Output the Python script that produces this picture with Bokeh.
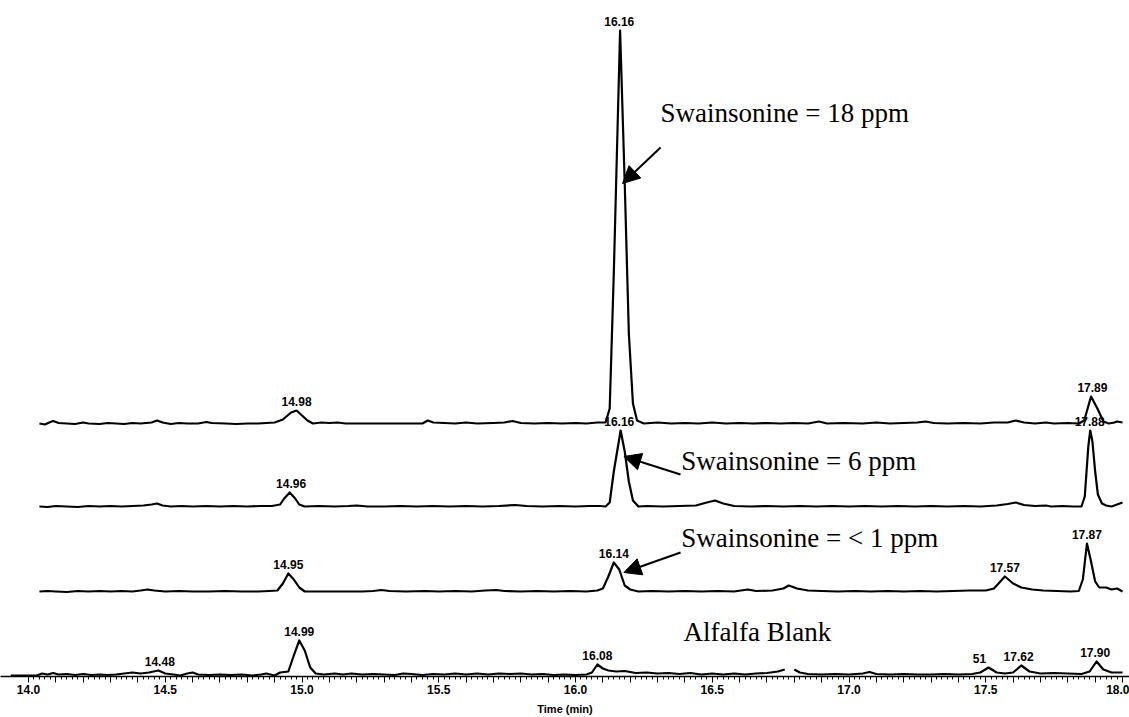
import math
from bokeh.plotting import figure
from bokeh.models import Range1d, FixedTicker, CustomJSTickFormatter, Label, Arrow, NormalHead
from bokeh.core.properties import value
from bokeh.embed import file_html
from bokeh.resources import INLINE

NAN = float("nan")

# ---------------- data ----------------
# Trace 1: Swainsonine = 18 ppm
t_18 = [14.04, 14.06, 14.08, 14.09, 14.11, 14.14, 14.17, 14.20, 14.22, 14.26, 14.29, 14.32, 14.35, 14.38,
        14.41, 14.45, 14.47, 14.49, 14.52, 14.55, 14.58, 14.62, 14.65, 14.67, 14.72, 14.76, 14.80, 14.84,
        14.90, 14.93, 14.96, 14.98, 15.00, 15.02, 15.04, 15.07, 15.10, 15.13, 15.16, 15.20, 15.26, 15.32,
        15.38, 15.44, 15.46, 15.48, 15.52, 15.56, 15.60, 15.64, 15.70, 15.74, 15.77, 15.80, 15.85, 15.90,
        15.95, 16.00, 16.04, 16.08, 16.11, 16.125, 16.14, 16.163, 16.18, 16.195, 16.21, 16.225, 16.25,
        16.30, 16.35, 16.40, 16.45, 16.50, 16.55, 16.60, 16.65, 16.70, 16.75, 16.80, 16.85, 16.89, 16.92,
        16.98, 17.05, 17.10, 17.15, 17.20, 17.25, 17.28, 17.31, 17.36, 17.42, 17.48, 17.53, 17.58, 17.61,
        17.64, 17.68, 17.72, 17.75, 17.80, 17.84, 17.86, 17.885, 17.91, 17.93, 17.95, 17.97, 17.98, 18.00]
y_18 = [0, -1, 1.5, 2.5, 0.5, 0, -0.5, 1, 0, -0.5, 0.5, 0, -0.5, 0.5,
        0, 1, 3, 1, -0.5, 0.5, 0, 0, 1.5, 0.5, 0, -0.5, 0, 0,
        1, 4, 11, 13, 8, 3, 0, 1, 0.5, 1, 0, 0, 0, 0,
        0, 0, 3, 1, 0.5, 0, 1, 0, 0.5, 1, 2.5, 0.5, 0, 0.5,
        0, 0.5, 0, 1, 1, 15, 150, 393, 240, 90, 20, 3, 0,
        1, 0, 0.5, 0, 1, 0, 0.5, 0, 0.5, 0, 0.5, 0, 2, 0,
        0.5, 0, 1, 0, 0.5, 1, 2, 0.5, 0, 0.5, 0, 1, 1, 3,
        1, 0, 1, 0, 0.5, 0, 3, 27, 14, 2, 0, 1, 2, 1]

# Trace 2: Swainsonine = 6 ppm
t_6 = [14.04, 14.07, 14.10, 14.14, 14.18, 14.22, 14.26, 14.30, 14.34, 14.38, 14.42, 14.45, 14.47, 14.49,
       14.52, 14.56, 14.60, 14.65, 14.70, 14.75, 14.80, 14.85, 14.89, 14.92, 14.935, 14.955, 14.975, 14.99,
       15.01, 15.06, 15.12, 15.17, 15.20, 15.24, 15.30, 15.36, 15.42, 15.48, 15.54, 15.60, 15.66, 15.72,
       15.78, 15.82, 15.88, 15.94, 16.00, 16.05, 16.09, 16.11, 16.125, 16.14, 16.165, 16.18, 16.195, 16.21,
       16.23, 16.26, 16.32, 16.38, 16.44, 16.48, 16.51, 16.54, 16.58, 16.64, 16.70, 16.76, 16.82, 16.88,
       16.94, 17.00, 17.06, 17.12, 17.18, 17.24, 17.30, 17.36, 17.42, 17.48, 17.54, 17.58, 17.61, 17.64,
       17.68, 17.72, 17.74, 17.78, 17.82, 17.85, 17.862, 17.875, 17.882, 17.89, 17.90, 17.91, 17.925,
       17.94, 17.96, 17.98, 18.00]
y_6 = [0, -0.5, 0.5, 0, -0.5, 0.5, 0, 0.5, 0, 0.5, 1, 2, 3, 1,
       0, 0.5, 0, 0.5, 0, 0.5, 0, 0.5, 0.5, 2, 8, 14, 8, 2,
       0, 0.5, 0, 0.5, 1, 0, 0, 0.5, 0, 0.5, 0, 0.5, 0, 0.5,
       1.5, 0.5, 0, 0.5, 0, 0.5, 0.5, 0, 4, 35, 76, 55, 25, 6,
       0, 0.5, 0, 0.5, 1, 4, 6, 3, 0.5, 0, 0.5, 0, 0.5, 0,
       0.5, 0, 0.5, 0, 0.5, 0, 0.5, 0, 0.5, 0, 1, 2.5, 4, 1.5,
       0.5, 1, 0, 0.5, 0, 0, 10, 60, 76, 65, 35, 12, 3,
       1, 0, 2, 4]

# Trace 3: Swainsonine = < 1 ppm
t_1 = [14.04, 14.07, 14.10, 14.14, 14.18, 14.22, 14.26, 14.30, 14.34, 14.38, 14.41, 14.435, 14.46, 14.50,
       14.55, 14.60, 14.66, 14.72, 14.78, 14.84, 14.88, 14.91, 14.93, 14.95, 14.97, 14.99, 15.01, 15.05,
       15.10, 15.16, 15.22, 15.26, 15.29, 15.32, 15.38, 15.45, 15.50, 15.56, 15.62, 15.67, 15.71, 15.74,
       15.80, 15.86, 15.92, 15.98, 16.04, 16.08, 16.10, 16.12, 16.14, 16.16, 16.18, 16.20, 16.23, 16.28,
       16.34, 16.40, 16.46, 16.52, 16.58, 16.63, 16.66, 16.72, 16.76, 16.78, 16.81, 16.85, 16.90, 16.96,
       17.02, 17.08, 17.14, 17.20, 17.26, 17.32, 17.38, 17.44, 17.50, 17.53, 17.57, 17.60, 17.63, 17.67,
       17.71, 17.76, 17.81, 17.84, 17.855, 17.87, 17.885, 17.90, 17.915, 17.94, 17.96, 17.98, 18.00]
y_1 = [0, 0.5, 0, -0.5, 0.5, 0, 0.5, 0, 0.5, 0, 1, 2, 1, 0,
       0.5, 0, 0, 0.5, 0, 0, 0.5, 1, 8, 18, 12, 4, 0, 0,
       0, 0, 0, 0.5, 1.5, 0.5, 0, 0.5, 0, 0.5, 0, 1, 1.5, 0.5,
       0, 0.5, 0, 0.5, 0, 1, 3, 15, 29, 22, 6, 2, 0, 0.5,
       0, 0.5, 0, 0.5, 0, 2, 0.5, 1, 3, 6, 3, 1, 0.5, 0,
       0.5, 0, 0.5, 0, 0.5, 0, 0.5, 1, 1, 3, 15, 8, 4, 2,
       1, 0.5, 0, 0.5, 12, 48, 30, 10, 4, 4, 2, 3, 0]

# Trace 4: Alfalfa Blank (gap near 16.78 min)
t_blank = [13.935, 14.03, 14.05, 14.07, 14.09, 14.11, 14.14, 14.17, 14.20, 14.23, 14.26, 14.29, 14.32,
           14.35, 14.38, 14.41, 14.44, 14.475, 14.50, 14.53, 14.555, 14.58, 14.60, 14.62, 14.66, 14.70,
           14.74, 14.78, 14.82, 14.85, 14.87, 14.90, 14.92, 14.95, 14.97, 14.99, 15.01, 15.03, 15.05,
           15.08, 15.12, 15.15, 15.18, 15.22, 15.26, 15.30, 15.34, 15.37, 15.40, 15.44, 15.48, 15.52,
           15.56, 15.60, 15.64, 15.68, 15.72, 15.76, 15.80, 15.84, 15.88, 15.92, 15.96, 16.00, 16.04,
           16.06, 16.08, 16.10, 16.12, 16.15, 16.18, 16.22, 16.26, 16.30, 16.34, 16.38, 16.42, 16.46,
           16.50, 16.54, 16.58, 16.62, 16.66, 16.70, 16.74, 16.765, NAN, 16.80, 16.82, 16.85, 16.90,
           16.95, 17.00, 17.05, 17.075, 17.10, 17.15, 17.20, 17.25, 17.30, 17.35, 17.40, 17.45, 17.48,
           17.51, 17.54, 17.57, 17.60, 17.63, 17.66, 17.70, 17.75, 17.80, 17.85, 17.88, 17.905, 17.93,
           17.96, 18.00]
y_blank = [0, 0, 2, 1, 2.5, 1, 1.5, 0.5, 1.5, 0.5, 1, 0.5, 1,
           2, 3, 2, 3, 5, 2, 1, 0, 2, 3, 1, 0.5, 1,
           0.5, 1, 0, 1, 2, 0, 3, 4, 20, 35, 25, 8, 2,
           1, 2, 1, 2, 1, 1.5, 1, 0.5, 2, 1.5, 0.5, 1.5, 1,
           2, 1, 2, 1, 2, 1.5, 2, 1, 1.5, 0.5, 1, 0.5, 1,
           3, 11, 7, 5, 4, 4.5, 2.5, 3, 2, 2.5, 1.5, 2.5, 1,
           2, 1, 2, 1, 2, 2.5, 4, 6, NAN, 6, 3, 1.5, 1,
           1.5, 1, 2, 3.5, 1.5, 1, 1.5, 1, 1, 1.5, 1, 1.5, 3,
           8, 3, 2, 3, 10, 4, 2, 2.5, 2, 1.5, 4, 14, 6,
           3, 3]

# peak labels: (trace index, label text, retention time)
peak_trace = [0, 0, 0, 1, 1, 1, 2, 2, 2, 2, 3, 3, 3, 3, 3, 3]
peak_text = ["14.98", "16.16", "17.89", "14.96", "16.16", "17.88", "14.95", "16.14", "17.57", "17.87",
             "14.48", "14.99", "16.08", "51", "17.62", "17.90"]
peak_rt = [14.98, 16.16, 17.89, 14.96, 16.16, 17.88, 14.95, 16.14, 17.57, 17.87,
           14.48, 14.99, 16.08, 17.51, 17.62, 17.90]

annotations = ["Swainsonine = 18 ppm", "Swainsonine = 6 ppm", "Swainsonine = < 1 ppm", "Alfalfa Blank"]

tick_labels = ["14.0", "14.5", "15.0", "15.5", "16.0", "16.5", "17.0", "17.5", "18.0"]

# ---------------- layout / style ----------------
offsets = [253, 170, 85, 1]
FRAME_H = 676
W, H = 1129, 717

p = figure(width=W, height=H, x_range=Range1d(13.8976, 13.8976 + W / 273.5), y_range=Range1d(0, FRAME_H),
           output_backend="svg", toolbar_location=None,
           min_border_left=0, min_border_right=0, min_border_top=0, min_border_bottom=H - FRAME_H,
           y_axis_location=None, x_axis_label="Time (min)")
p.grid.visible = False
p.outline_line_color = None
p.background_fill_color = "white"
p.border_fill_color = "white"

traces = [(t_18, y_18), (t_6, y_6), (t_1, y_1), (t_blank, y_blank)]
for (ts, ys), off in zip(traces, offsets):
    yy = [v + off if not math.isnan(v) else NAN for v in ys]
    p.line(ts, yy, line_color="black", line_width=2.2, line_join="round")

# peak labels above apex
lx, ly, lt, lxo = [], [], [], []
for ti, txt, rt in zip(peak_trace, peak_text, peak_rt):
    ts, ys = traces[ti]
    best = max(v for t, v in zip(ts, ys) if not math.isnan(t) and abs(t - rt) <= 0.03)
    lx.append(rt)
    ly.append(best + offsets[ti])
    lt.append(txt)
    lxo.append(-9 if txt == "51" else 0)
p.text(x=lx, y=ly, text=lt, x_offset=lxo, y_offset=-5, text_align="center", text_baseline="bottom",
       text_font=value("Liberation Sans"), text_font_style="bold", text_font_size="12px",
       text_color="black")

# annotation texts (Times-like serif)
ann_x = [16.311, 16.387, 16.387, 16.395]
ann_y = [564, 216, 139, 45]
for txt, ax_, ay in zip(annotations, ann_x, ann_y):
    p.add_layout(Label(x=ax_, y=ay, text=txt, text_font="Liberation Serif", text_font_size="27px",
                       text_color="black", text_baseline="alphabetic", text_align="left"))

# arrows
arrows = [((16.311, 529), (16.172, 493)), ((16.384, 202), (16.177, 220)), ((16.384, 124), (16.177, 104))]
for (x0, y0), (x1, y1) in arrows:
    p.add_layout(Arrow(x_start=x0, y_start=y0, x_end=x1, y_end=y1, line_width=2, line_color="black",
                       end=NormalHead(size=17, fill_color="black", line_color="black", line_width=1)))

# axis
major = [round(14 + 0.1 * i, 2) for i in range(41)]
minor = [round(14 + 0.02 * i, 2) for i in range(201)]
ax = p.xaxis[0]
ax.ticker = FixedTicker(ticks=major, minor_ticks=minor)
ax.formatter = CustomJSTickFormatter(args=dict(labels=tick_labels), code="""
    const k = Math.round((tick - 14.0) * 2);
    if (Math.abs((tick - 14.0) * 2 - k) < 1e-6 && k >= 0 && k < labels.length) { return labels[k]; }
    return "";
""")
ax.axis_line_color = "black"
ax.axis_line_width = 1.5
ax.major_tick_line_color = "black"
ax.major_tick_line_width = 1
ax.major_tick_out = 6
ax.major_tick_in = 0
ax.minor_tick_line_color = "black"
ax.minor_tick_out = 3
ax.minor_tick_in = 0
ax.major_label_text_font = "Liberation Sans"
ax.major_label_text_font_style = "bold"
ax.major_label_text_font_size = "12px"
ax.major_label_text_color = "black"
ax.major_label_standoff = 2
ax.axis_label_text_font = "Liberation Sans"
ax.axis_label_text_font_style = "bold"
ax.axis_label_text_font_size = "11px"
ax.axis_label_text_color = "black"
ax.axis_label_standoff = 6

open("out.html", "w").write(file_html(p, INLINE))
